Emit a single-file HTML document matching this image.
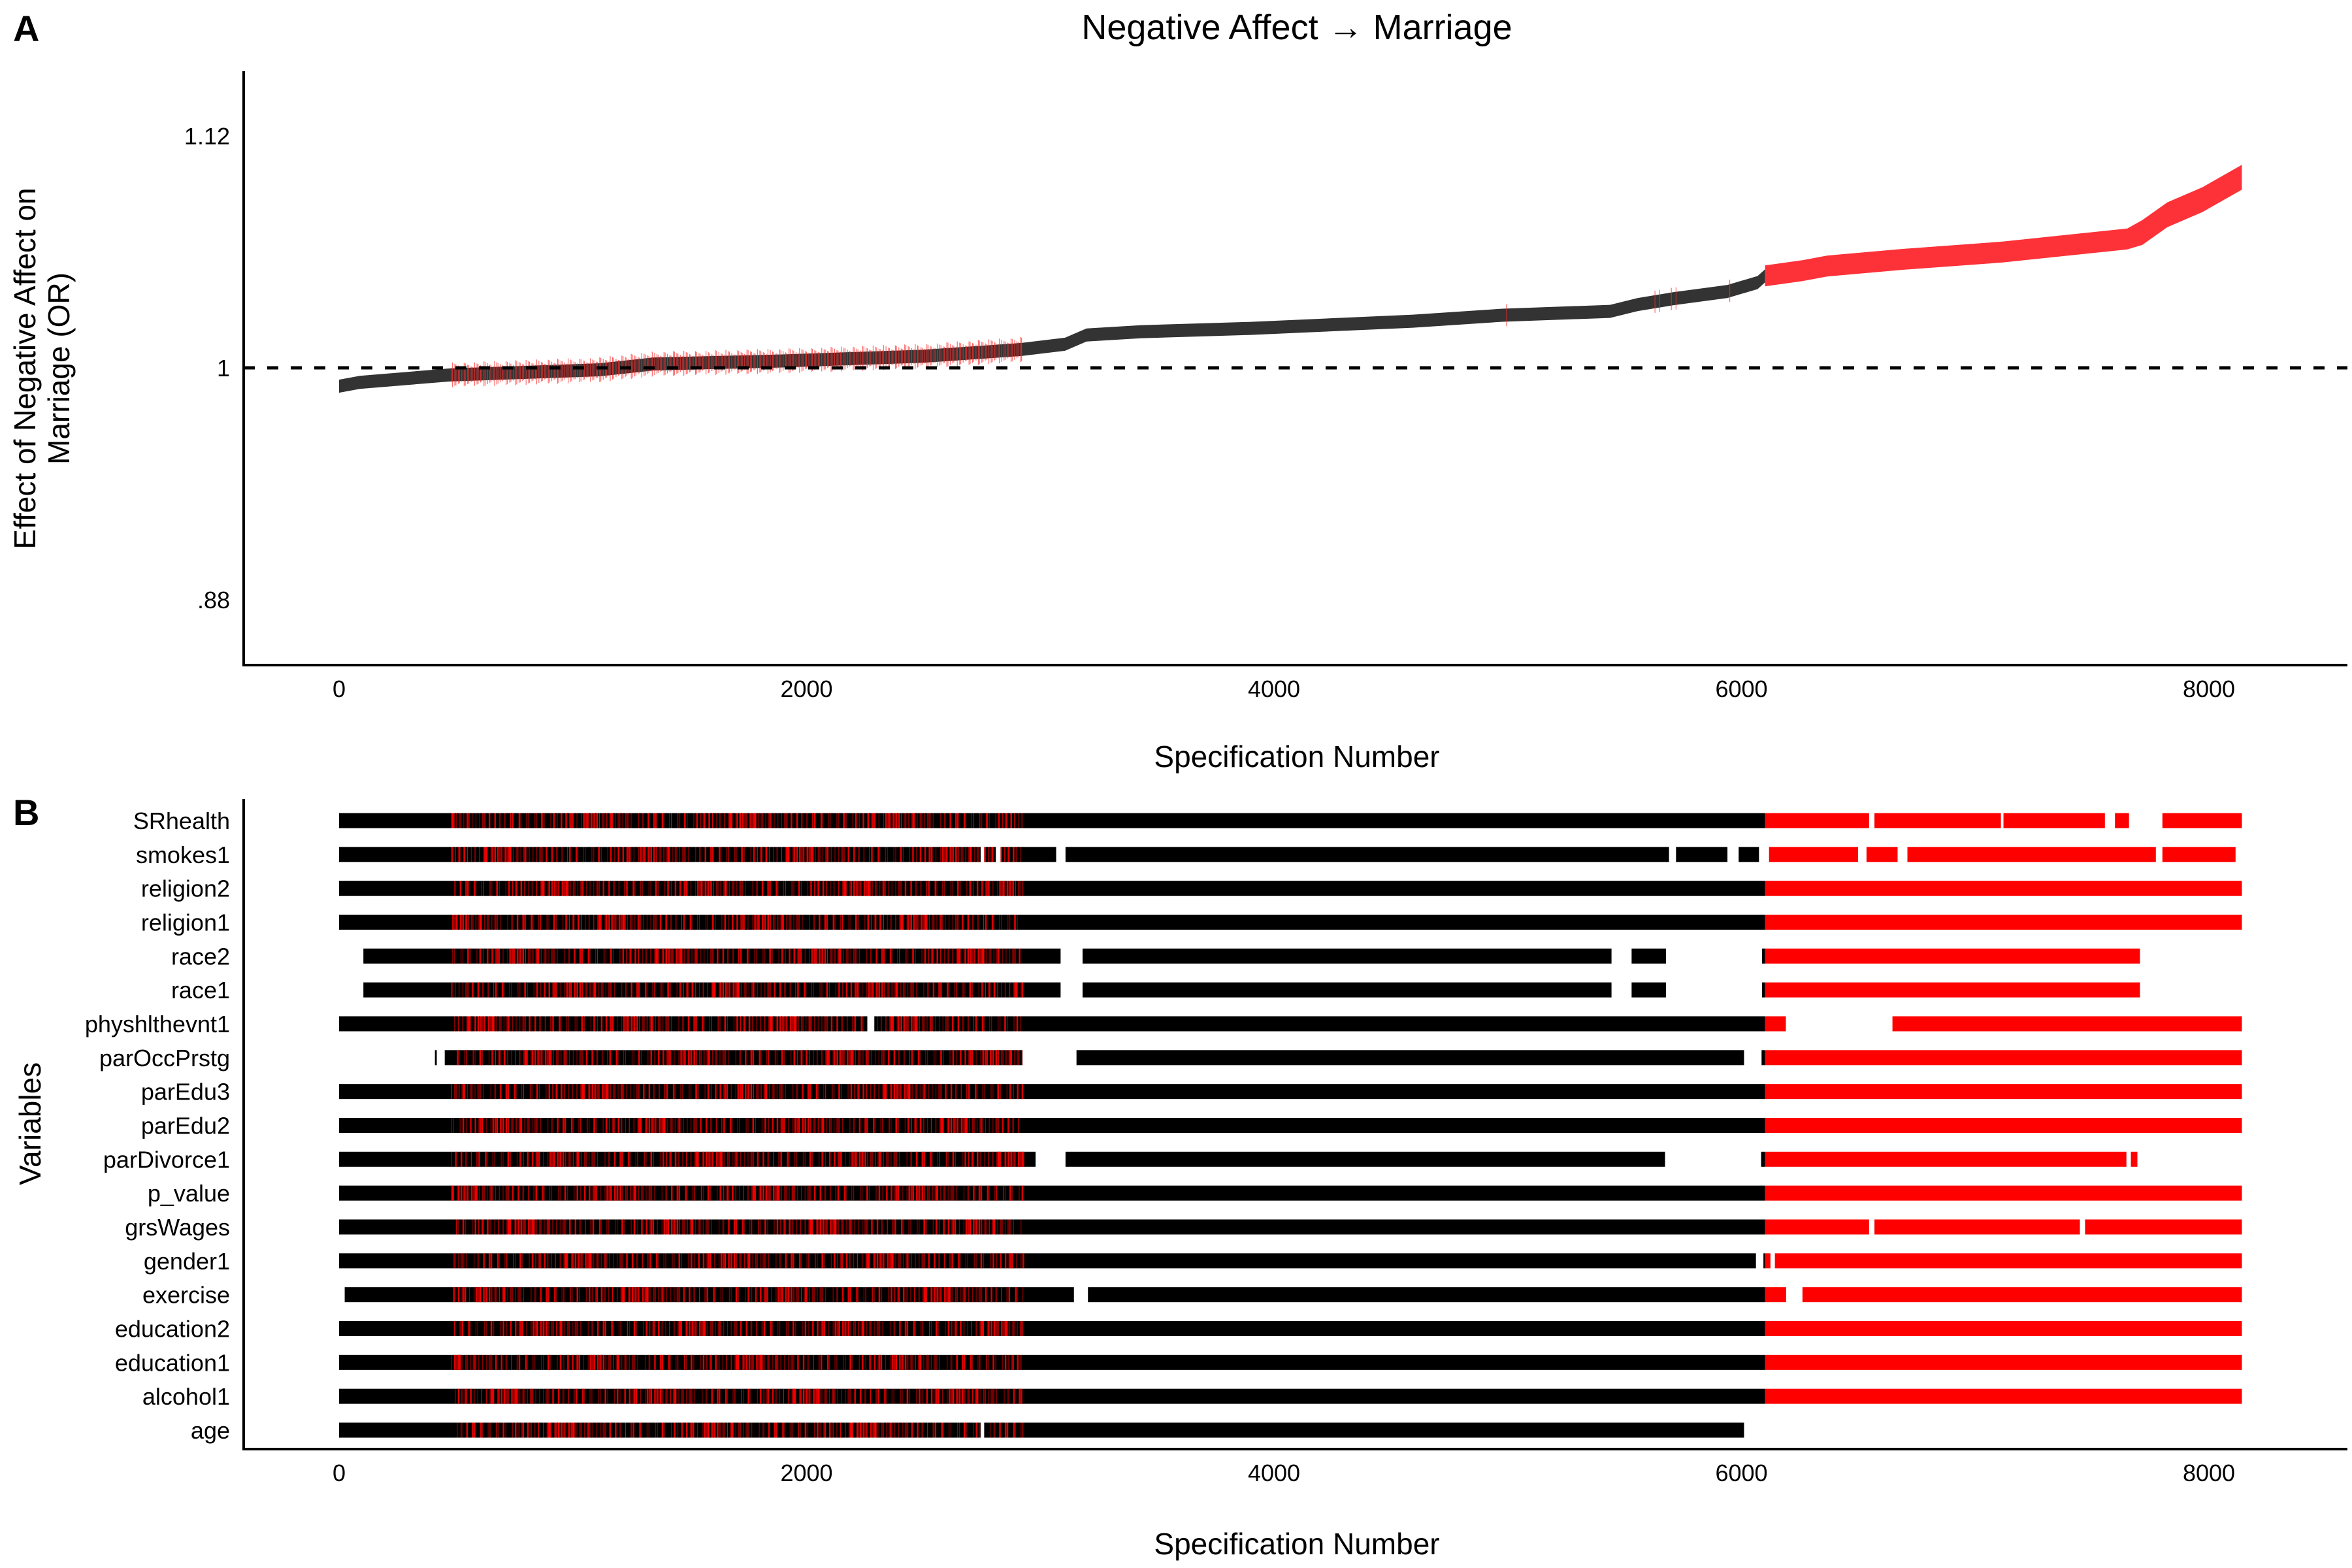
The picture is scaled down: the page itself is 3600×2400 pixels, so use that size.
<!DOCTYPE html>
<html><head><meta charset="utf-8"><style>
html,body{margin:0;padding:0;background:#fff;}
svg{display:block;font-family:"Liberation Sans",Arial,sans-serif;}
</style></head><body>
<svg id="fig" width="3600" height="2400" viewBox="0 0 3600 2400" xmlns="http://www.w3.org/2000/svg">
<g id="panelA"></g>
<g id="panelB"></g>
</svg>
<script>
// ---- Panel A data ----
const specX = [0,89,474,1115,1345,1885,2500,2920,3106,3198,3430,3894,4589,4978,5438,5555,5705,5940,6069,6101,6261,6368,6689,7117,7651,7715,7822,7972,8141];
const effectOR = [0.9905,0.9925,0.9963,0.999,1.002,1.0035,1.006,1.0095,1.0122,1.017,1.0187,1.0204,1.0241,1.0272,1.0292,1.0327,1.0357,1.0395,1.0441,1.0476,1.0503,1.0527,1.0561,1.0599,1.0667,1.07,1.0792,1.087,1.0986];
const sigStart = 6101;
const mixedZone = [480, 2925];
const sparseSigSpecs = [4995, 5630, 5650, 5700, 5720, 5950];
const yTicks = [0.88, 1, 1.12];
const yTickLabels = [".88", "1", "1.12"];
const xTicks = [0, 2000, 4000, 6000, 8000];
const xTickLabels = ["0", "2000", "4000", "6000", "8000"];

// ---- Panel B data ----
const variables = ["SRhealth","smokes1","religion2","religion1","race2","race1","physhlthevnt1","parOccPrstg","parEdu3","parEdu2","parDivorce1","p_value","grsWages","gender1","exercise","education2","education1","alcohol1","age"];
const presentRanges = [
 [[0,6546],[6569,7110],[7121,7555],[7598,7658],[7801,8141]],
 [[0,2745],[2760,2810],[2830,3068],[3108,5690],[5720,5940],[5988,6075],[6118,6499],[6535,6668],[6710,7773],[7801,8114]],
 [[0,8141]],
 [[0,8141]],
 [[104,3087],[3181,5444],[5530,5677],[6088,7705]],
 [[104,3087],[3181,5444],[5530,5677],[6088,7705]],
 [[0,2260],[2290,6190],[6646,8141]],
 [[410,418],[452,2924],[3155,6011],[6086,8141]],
 [[0,8141]],
 [[0,8141]],
 [[0,2980],[3108,5673],[6084,7647],[7666,7694]],
 [[0,8141]],
 [[0,6546],[6569,7448],[7470,8141]],
 [[0,6062],[6094,6124],[6143,8141]],
 [[24,3144],[3204,6191],[6261,8141]],
 [[0,8141]],
 [[0,8141]],
 [[0,8141]],
 [[0,2745],[2760,6011]]
];

const NS = "http://www.w3.org/2000/svg";
const X0 = 519, PXPER = (3381-519)/8000;
function xs(v){ return X0 + v*PXPER; }
const Y1 = 563, PXUNIT = (920-210)/0.24;
function ys(v){ return Y1 - (v-1)*PXUNIT; }
function mk(tag, attrs, parent){ const e=document.createElementNS(NS,tag); for(const k in attrs) e.setAttribute(k,attrs[k]); parent.appendChild(e); return e; }
function interp(s){
  for(let i=0;i<specX.length-1;i++){ if(s<=specX[i+1]){ const t=(s-specX[i])/(specX[i+1]-specX[i]); return effectOR[i]+t*(effectOR[i+1]-effectOR[i]); } }
  return effectOR[effectOR.length-1];
}

const A = document.getElementById('panelA');
const B = document.getElementById('panelB');

let t = mk('text',{x:20,y:63,'font-size':56,'font-weight':'bold'},A); t.textContent='A';
 
t = mk('text',{x:20,y:1263,'font-size':56,'font-weight':'bold'},B); t.textContent='B';
 

t = mk('text',{x:1985,y:60,'font-size':54,'text-anchor':'middle'},A); t.textContent='Negative Affect \u2192 Marriage';
 

function band(from,to,half,fill,name){
  let up=[],lo=[];
  const pts=[from];
  specX.forEach(s=>{ if(s>from && s<to) pts.push(s); });
  pts.push(to);
  pts.forEach(s=>{ const v=interp(s); const h = typeof half==='function'?half(s):half; up.push(xs(s).toFixed(1)+','+(ys(v)-h).toFixed(1)); lo.unshift(xs(s).toFixed(1)+','+(ys(v)+h).toFixed(1)); });
  const p = mk('polygon',{points:up.concat(lo).join(' '),fill:fill},A);
   
}
band(specX[0], sigStart, 10, '#333333', 'effect-curve-nonsignificant');
band(sigStart, specX[specX.length-1], s=> s>7700 ? 19 : 16, '#fc3238', 'effect-curve-significant');

const tickG = mk('g',{stroke:'#ff2a2a','stroke-width':1.2,opacity:0.7},A);
 
for(let s=mixedZone[0], i=0; s<=mixedZone[1]; s+=5, i++){
  const k=(i*37)%11;
  if(k>6) continue;
  const v=interp(s); const h = 11 + ((i*53)%9);
  mk('line',{x1:xs(s),x2:xs(s),y1:ys(v)-h,y2:ys(v)+h},tickG);
}
sparseSigSpecs.forEach(s=>{ const v=interp(s); mk('line',{x1:xs(s),x2:xs(s),y1:ys(v)-17,y2:ys(v)+17},tickG); });

let dl = mk('line',{x1:373,x2:3593,y1:ys(1),y2:ys(1),stroke:'#000','stroke-width':5,'stroke-dasharray':'17 19'},A);
 

let ax = mk('path',{d:'M373,109 L373,1018 L3593,1018',fill:'none',stroke:'#000','stroke-width':4},A);
 
yTicks.forEach((v,i)=>{ const l=mk('text',{x:352,y:ys(v)+13,'font-size':36,'text-anchor':'end'},A); l.textContent=yTickLabels[i];
    });
xTicks.forEach((v,i)=>{ const l=mk('text',{x:xs(v),y:1067,'font-size':36,'text-anchor':'middle'},A); l.textContent=xTickLabels[i];
    });
t = mk('text',{x:1985,y:1174,'font-size':46,'text-anchor':'middle'},A); t.textContent='Specification Number';
 
t = mk('text',{transform:'translate(62,564) rotate(-90)','font-size':46,'text-anchor':'middle'},A);
 
let ts1 = mk('tspan',{x:0,dy:-8},t); ts1.textContent='Effect of Negative Affect on';
let ts2 = mk('tspan',{x:0,dy:52},t); ts2.textContent='Marriage (OR)';

const ROW0 = 1256, ROWSTEP = (2189-1256)/18, BARH = 23;
variables.forEach((name,r)=>{
  const cy = ROW0 + r*ROWSTEP;
  const g = mk('g',{},B);
   
  const lab = mk('text',{x:352,y:cy+13,'font-size':36,'text-anchor':'end'},g); lab.textContent=name;
   
  presentRanges[r].forEach(([a,b])=>{
    const blackEnd = Math.min(b, sigStart);
    if(a < blackEnd){
      const rc = mk('rect',{x:xs(a),y:cy-BARH/2,width:Math.max(2,xs(blackEnd)-xs(a)),height:BARH,fill:'#000'},g);
       
    }
    const redStart = Math.max(a, sigStart);
    if(redStart < b){
      const rc = mk('rect',{x:xs(redStart),y:cy-BARH/2,width:xs(b)-xs(redStart),height:BARH,fill:'#ff0000'},g);
       
    }
    const m0=Math.max(a,mixedZone[0]), m1=Math.min(b,mixedZone[1]);
    for(let s=m0, i=r*7; s<m1; s+=4, i++){
      const k=(i*37+r*11+((i*i)%17))%19;
      if(k<7){
        mk('rect',{x:xs(s),y:cy-BARH/2,width:k<2?2.5:1.2,height:BARH,fill:'#ff0000',opacity:k<3?0.85:0.55},g);
      }
    }
  });
});
ax = mk('path',{d:'M373,1223 L373,2218 L3593,2218',fill:'none',stroke:'#000','stroke-width':4},B);
 
xTicks.forEach((v,i)=>{ const l=mk('text',{x:xs(v),y:2267,'font-size':36,'text-anchor':'middle'},B); l.textContent=xTickLabels[i];
    });
t = mk('text',{x:1985,y:2379,'font-size':46,'text-anchor':'middle'},B); t.textContent='Specification Number';
 
t = mk('text',{transform:'translate(62,1720) rotate(-90)','font-size':46,'text-anchor':'middle'},B); t.textContent='Variables';
 
</script>
</body></html>
